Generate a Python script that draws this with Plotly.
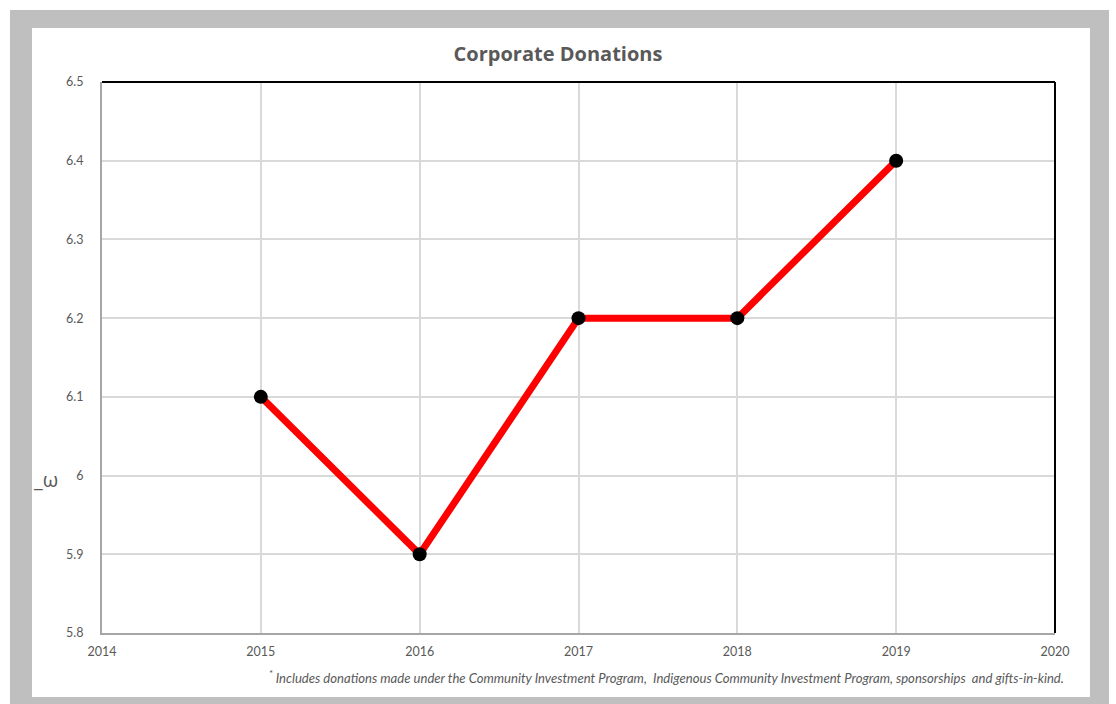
import plotly.graph_objects as go

years = [2015, 2016, 2017, 2018, 2019]
donations = [6.1, 5.9, 6.2, 6.2, 6.4]
x_ticks = [2014, 2015, 2016, 2017, 2018, 2019, 2020]
y_ticks = [5.8, 5.9, 6.0, 6.1, 6.2, 6.3, 6.4, 6.5]
y_tick_labels = ["5.8", "5.9", "6", "6.1", "6.2", "6.3", "6.4", "6.5"]
title_text = "Corporate Donations"
footnote = "<sup>*</sup> Includes donations made under the Community Investment Program,  Indigenous Community Investment Program, sponsorships  and gifts-in-kind."

W, H = 1116, 704
L, R, T, B = 102, 1055, 82, 633
pw, ph = R - L, B - T

def px(x):
    return (x - L) / pw

def py(y):
    return (B - y) / ph

fig = go.Figure()
fig.add_trace(go.Scatter(
    x=years, y=donations, mode="lines+markers",
    line=dict(color="#ff0000", width=7),
    marker=dict(color="#000000", size=14),
    showlegend=False, cliponaxis=False,
))

shapes = [
    dict(type="rect", xref="paper", yref="paper", x0=px(10), x1=px(1109), y0=py(720), y1=py(10),
         fillcolor="#bfbfbf", line=dict(width=0), layer="below"),
    dict(type="rect", xref="paper", yref="paper", x0=px(32), x1=px(1090), y0=py(697), y1=py(28),
         fillcolor="#ffffff", line=dict(width=0), layer="below"),
    dict(type="line", xref="paper", yref="paper", x0=0, x1=1, y0=1, y1=1,
         line=dict(color="#000000", width=2), layer="above"),
    dict(type="line", xref="paper", yref="paper", x0=1, x1=1, y0=0, y1=1,
         line=dict(color="#000000", width=2), layer="above"),
]

fig.update_layout(
    width=W, height=H,
    margin=dict(l=L, r=W - R, t=T, b=H - B),
    paper_bgcolor="#ffffff", plot_bgcolor="rgba(0,0,0,0)",
    font=dict(family="Lato", size=12.5, color="#595959"),
    title=dict(text="<b>" + title_text + "</b>", x=0.5, xanchor="center",
               xref="container", y=1 - 54 / H, yanchor="middle",
               font=dict(family="Open Sans", size=20, color="#595959")),
    shapes=shapes,
    xaxis=dict(range=[2014, 2020], tickvals=x_ticks, ticktext=[str(v) for v in x_ticks],
               showgrid=True, gridcolor="#d9d9d9", gridwidth=1.5,
               showline=True, linecolor="#a6a6a6", linewidth=2, zeroline=False,
               ticks="", ticklabelstandoff=6),
    yaxis=dict(range=[5.8, 6.5], tickvals=y_ticks, ticktext=y_tick_labels,
               showgrid=True, gridcolor="#d9d9d9", gridwidth=1.5,
               showline=True, linecolor="#a6a6a6", linewidth=2, zeroline=False,
               ticks="", ticklabelstandoff=14),
    annotations=[
        dict(text="<i>" + footnote + "</i>", xref="paper", yref="paper",
             x=px(1066), y=py(677), xanchor="right", yanchor="middle", showarrow=False,
             font=dict(family="Lato", size=13.1, color="#595959")),
        dict(text="_ω", xref="paper", yref="paper", x=px(31), y=py(479),
             xanchor="left", yanchor="middle", showarrow=False,
             font=dict(family="Open Sans", size=20, color="#595959")),
    ],
)

fig.write_html("out.html")
